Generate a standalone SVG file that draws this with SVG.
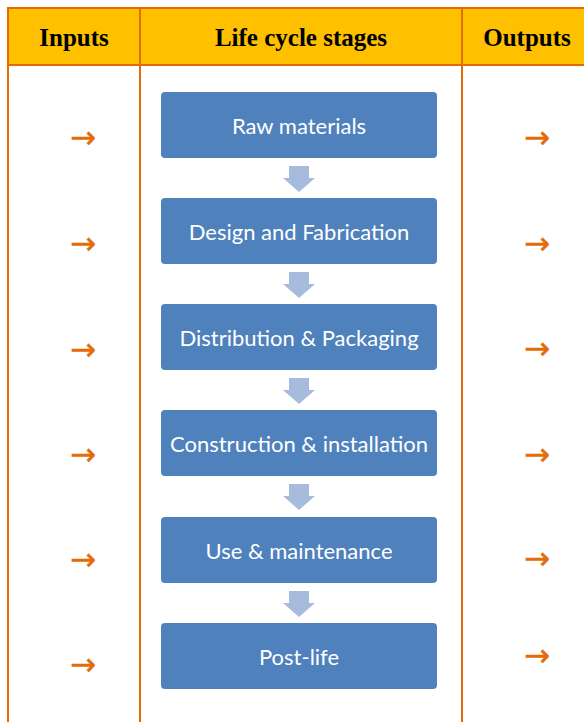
<svg xmlns="http://www.w3.org/2000/svg" width="584" height="722" viewBox="0 0 584 722">
<style>
.hdr{font-family:"Liberation Serif",serif;font-weight:bold;font-size:25px;fill:#000;text-anchor:middle}
.box{fill:#4F81BD}
.lbl{font-family:Lato,"Open Sans",sans-serif;font-size:22px;fill:#fff;text-anchor:middle;dominant-baseline:central}
.arr{font-family:"DejaVu Sans",sans-serif;font-size:31px;fill:#E36C09;stroke:#E36C09;stroke-width:0.4;text-anchor:middle;dominant-baseline:central}
.grid{stroke:#E36C09;stroke-width:2;fill:none}
.down{fill:#A7BBDC}
</style>
<rect width="584" height="722" fill="#fff"/>
<g id="table">
<rect x="8" y="8" width="576" height="57" fill="#FFC000"/>
<path class="grid" d="M8 722V8H584M8 65H584M140 8V722M462 8V722"/>
<text class="hdr" x="74" y="46">Inputs</text>
<text class="hdr" x="301" y="46">Life cycle stages</text>
<text class="hdr" x="527" y="46">Outputs</text>
</g>
<g id="connectors">
<path class="down" d="M289 166h20v12h6l-16 14l-16-14h6z"/>
<path class="down" d="M289 272h20v12h6l-16 14l-16-14h6z"/>
<path class="down" d="M289 378h20v12h6l-16 14l-16-14h6z"/>
<path class="down" d="M289 484h20v12h6l-16 14l-16-14h6z"/>
<path class="down" d="M289 591h20v12h6l-16 14l-16-14h6z"/>
</g>
<g id="n1"><rect class="box" x="161" y="92" width="276" height="66" rx="4"/><text class="lbl" x="299" y="125">Raw materials</text></g>
<g id="n2"><rect class="box" x="161" y="198" width="276" height="66" rx="4"/><text class="lbl" x="299" y="231">Design and Fabrication</text></g>
<g id="n3"><rect class="box" x="161" y="304" width="276" height="66" rx="4"/><text class="lbl" x="299" y="337">Distribution &amp; Packaging</text></g>
<g id="n4"><rect class="box" x="161" y="410" width="276" height="66" rx="4"/><text class="lbl" x="299" y="443">Construction &amp; installation</text></g>
<g id="n5"><rect class="box" x="161" y="517" width="276" height="66" rx="4"/><text class="lbl" x="299" y="550">Use &amp; maintenance</text></g>
<g id="n6"><rect class="box" x="161" y="623" width="276" height="66" rx="4"/><text class="lbl" x="299" y="656">Post-life</text></g>
<g id="inputs">
<text class="arr" x="83" y="137">→</text>
<text class="arr" x="83" y="243">→</text>
<text class="arr" x="83" y="349">→</text>
<text class="arr" x="83" y="454">→</text>
<text class="arr" x="83" y="559">→</text>
<text class="arr" x="83" y="664">→</text>
</g>
<g id="outputs">
<text class="arr" x="537" y="137">→</text>
<text class="arr" x="537" y="243">→</text>
<text class="arr" x="537" y="348">→</text>
<text class="arr" x="537" y="454">→</text>
<text class="arr" x="537" y="558">→</text>
<text class="arr" x="537" y="655">→</text>
</g>
</svg>
